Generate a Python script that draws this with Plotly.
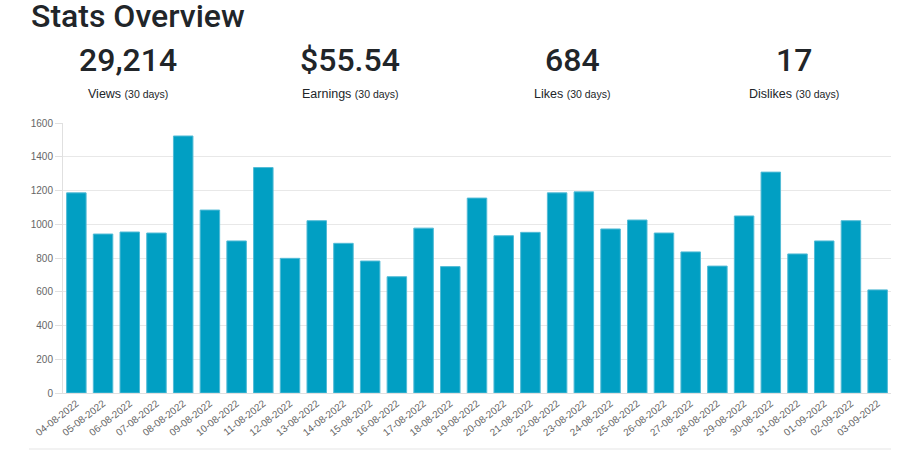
import plotly.graph_objects as go

dates = ["04-08-2022", "05-08-2022", "06-08-2022", "07-08-2022", "08-08-2022", "09-08-2022",
         "10-08-2022", "11-08-2022", "12-08-2022", "13-08-2022", "14-08-2022", "15-08-2022",
         "16-08-2022", "17-08-2022", "18-08-2022", "19-08-2022", "20-08-2022", "21-08-2022",
         "22-08-2022", "23-08-2022", "24-08-2022", "25-08-2022", "26-08-2022", "27-08-2022",
         "28-08-2022", "29-08-2022", "30-08-2022", "31-08-2022", "01-09-2022", "02-09-2022",
         "03-09-2022"]
views = [1186, 942, 954, 948, 1523, 1084, 901, 1336, 798, 1021, 887, 782, 689, 977, 749,
         1155, 932, 952, 1186, 1192, 972, 1025, 948, 836, 752, 1049, 1309, 824, 901, 1021, 611]

stat_values = ["29,214", "$55.54", "684", "17"]
stat_labels = ["Views", "Earnings", "Likes", "Dislikes"]
stat_period = "(30 days)"
y_ticks = [0, 200, 400, 600, 800, 1000, 1200, 1400, 1600]

W, H = 897, 450
L, R, T, B = 63, 6, 123, 57
PW, PH = W - L - R, H - T - B


def px(x):
    return (x - L) / PW


def py(y):
    return (H - B - y) / PH


FONT = "Liberation Sans, Arial, sans-serif"
HEAD = "Roboto, Liberation Sans, Arial, sans-serif"
DARK = "#212529"

fig = go.Figure()
fig.add_trace(go.Bar(
    x=dates, y=views,
    marker=dict(color="#019fc3", line=dict(color="#52bbd6", width=1)),
))

annotations = [dict(text="Stats Overview", x=px(29), y=py(15.5), xref="paper", yref="paper",
                    xanchor="left", yanchor="middle", showarrow=False,
                    font=dict(size=32, color=DARK, family=HEAD, weight=500))]
centers = [128, 350, 572, 794]
for cx, v, lab in zip(centers, stat_values, stat_labels):
    annotations.append(dict(text=v, x=px(cx), y=py(60), xref="paper", yref="paper",
                            xanchor="center", yanchor="middle", showarrow=False,
                            font=dict(size=32, color=DARK, family=HEAD, weight=500)))
    annotations.append(dict(text=f"{lab} <span style='font-size:10.5px'>{stat_period}</span>",
                            x=px(cx), y=py(94), xref="paper", yref="paper",
                            xanchor="center", yanchor="middle", showarrow=False,
                            font=dict(size=12.5, color=DARK, family=FONT)))

fig.update_layout(
    width=W, height=H,
    margin=dict(l=L, r=R, t=T, b=B, autoexpand=False),
    paper_bgcolor="white", plot_bgcolor="white",
    showlegend=False, bargap=0.27,
    annotations=annotations,
    shapes=[dict(type="line", xref="paper", yref="paper",
                 x0=px(29), x1=px(891), y0=py(449), y1=py(449),
                 line=dict(color="#e5e5e5", width=1))],
    font=dict(family=FONT),
)
fig.update_xaxes(
    type="category", tickangle=-38, automargin=False,
    showgrid=False, showline=True, linecolor="#e0e0e0", linewidth=1,
    ticks="", tickfont=dict(size=10, color="#666666", family=FONT),
)
fig.update_yaxes(
    range=[0, 1600], tickvals=y_ticks, automargin=False,
    showgrid=True, gridcolor="#e8e8e8", gridwidth=1,
    showline=True, linecolor="#e0e0e0", linewidth=1,
    ticks="outside", ticklen=7, tickcolor="#e0e0e0",
    tickfont=dict(size=10, color="#666666", family=FONT),
    zeroline=False,
)

fig.write_html("out.html")
